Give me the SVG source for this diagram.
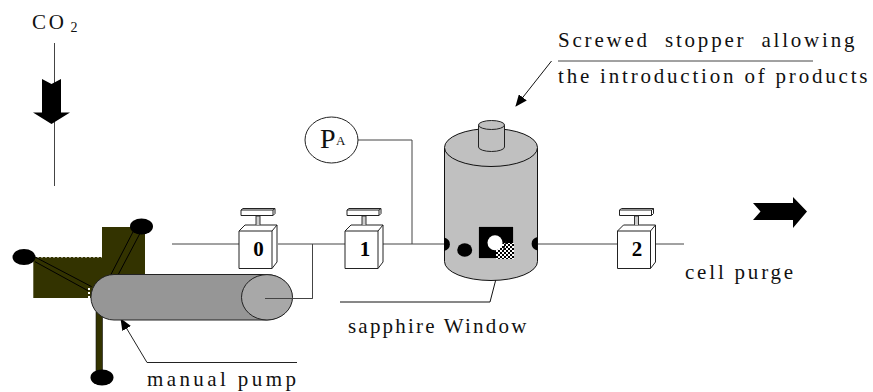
<svg xmlns="http://www.w3.org/2000/svg" width="873" height="392" viewBox="0 0 873 392">
<defs>
<pattern id="chk" width="4" height="4" patternUnits="userSpaceOnUse"><rect width="4" height="4" fill="#fff"/><rect width="2" height="2" fill="#000"/><rect x="2" y="2" width="2" height="2" fill="#000"/></pattern>
<marker id="ah" markerWidth="12" markerHeight="10" refX="11" refY="5" orient="auto" markerUnits="userSpaceOnUse"><path d="M0 0L12 5L0 10Z" fill="#000"/></marker>
<g id="valve">
<path d="M0 0L6-6H38V31L33 37.500H0Z" fill="#fff" stroke="#222" stroke-width="1"/>
<path d="M0 0H33V37.500M33 0L38-6" fill="none" stroke="#222" stroke-width="1"/>
<path d="M17-6V-15h4V-6" fill="#ccc" stroke="#333" stroke-width="1"/>
<path d="M2-15.500V-21L4-22.500H36V-17.500L34-15.500ZM2-21H34V-15.500M34-21L36-22.500" fill="#fff" stroke="#222" stroke-width="1"/>
</g>
</defs>
<style>
.t{font-family:"Liberation Serif","Times New Roman",serif;font-size:21px;fill:#111;letter-spacing:2.8px}
.n{font-family:"Liberation Serif","Times New Roman",serif;font-size:21px;font-weight:bold;fill:#000;text-anchor:middle}
.l{fill:none;stroke:#444;stroke-width:1}
.k{fill:#000}
</style>
<g id="connectors">
<path class="l" d="M54.500 43V186"/>
<path class="l" d="M172 244H239M278 244H345M383 244H444M412 244V140H358M537 244H618M655 244H684"/>
<path class="l" d="M312.500 244V298.500H265"/>
<path d="M340 302H490L503 252" fill="none" stroke="#111" stroke-width="1"/>
<path class="l" d="M558 61H813"/>
<path d="M551.500 61L516 106" fill="none" stroke="#111" stroke-width="1" marker-end="url(#ah)"/>
<path d="M297 362.500H147L121 319" fill="none" stroke="#222" stroke-width="1" marker-end="url(#ah)"/>
</g>
<g id="co2-arrow"><path class="k" d="M42 79L51.500 84L61 79V112.500H70L51.500 124L33 112.500H42Z"/></g>
<g id="purge-arrow"><path class="k" d="M753 203H793V197L807 211.500L793 228V220H753L760.500 211.500Z"/></g>
<g id="pump">
<path d="M33.300 257H102V227H145V298H33.300Z" fill="#333300"/>
<path d="M33 257H102M102 226.500H132" stroke="#fff" stroke-width="1" stroke-dasharray="2 2" fill="none"/>
<rect x="96" y="312" width="6.500" height="60" fill="#333300" stroke="#111" stroke-width="0.600"/>
<path d="M35 257L91.700 286.700M35 261.700L88 290.700M110.700 275L135 228M118 275L140.700 232" stroke="#000" stroke-width="1" fill="none"/>
<path d="M89 288V298" stroke="#fff" stroke-width="2" stroke-dasharray="2 2" fill="none"/>
<ellipse class="k" cx="141.500" cy="226.500" rx="11.500" ry="8"/>
<ellipse class="k" cx="24" cy="257" rx="11.500" ry="8"/>
<ellipse class="k" cx="102" cy="377.500" rx="11.500" ry="8"/>
<path d="M114 274.500H266A26 22.700 0 0 1 266 320H114A23 22.700 0 0 1 114 274.500Z" fill="#969696" stroke="#222" stroke-width="1"/>
<ellipse cx="267" cy="297.300" rx="25.500" ry="22.700" fill="#a8a8a8" stroke="#222" stroke-width="1"/>
<path class="l" d="M265 298.500H312.500"/>
</g>
<g id="valve-0"><use href="#valve" x="239" y="231"/><text class="n" x="258.500" y="256">0</text></g>
<g id="valve-1"><use href="#valve" x="345" y="231"/><text class="n" x="365" y="256">1</text></g>
<g id="valve-2"><use href="#valve" x="617.500" y="231"/><text class="n" x="637" y="256">2</text></g>
<g id="gauge">
<ellipse cx="331.500" cy="140" rx="26.500" ry="23" fill="#fff" stroke="#222" stroke-width="1"/>
<text x="320" y="147.500" style="font-family:'Liberation Serif',serif;font-size:28px;fill:#111">P</text>
<text x="336" y="145" style="font-family:'Liberation Serif',serif;font-size:13px;fill:#111">A</text>
</g>
<g id="cell">
<path d="M444.500 148V261.500A46.500 19 0 0 0 537.500 261.500V148Z" fill="#c0c0c0" stroke="#111" stroke-width="1"/>
<ellipse cx="491" cy="147.500" rx="46.500" ry="19" fill="#c0c0c0" stroke="#111" stroke-width="1"/>
<path d="M478.500 125V147A13 4.500 0 0 0 504.500 147V125Z" fill="#c0c0c0" stroke="#222" stroke-width="1"/>
<ellipse cx="491.500" cy="125" rx="13" ry="4.500" fill="#c0c0c0" stroke="#222" stroke-width="1"/>
<path class="k" d="M444 237.500A8 7 0 0 1 444 251Z"/>
<path class="k" d="M537.500 237A8 7 0 0 0 537.500 250.500Z"/>
<ellipse class="k" cx="464.700" cy="250" rx="7.500" ry="6.800"/>
<rect x="478.500" y="226.500" width="35" height="32" fill="#000" stroke="#fff" stroke-width="1" stroke-dasharray="1 1"/>
<rect x="496" y="243" width="18" height="16" fill="url(#chk)"/>
<circle cx="495" cy="242.700" r="7.500" fill="#fff"/>
<path d="M503 252L506 241" stroke="#111" stroke-width="1" fill="none"/>
</g>
<g id="labels">
<text class="t" x="32" y="29">CO</text><text x="70.500" y="32" style="font-family:'Liberation Serif',serif;font-size:14px;fill:#111">2</text>
<text class="t" x="558" y="47" style="word-spacing:7px">Screwed stopper allowing</text>
<text class="t" x="558" y="83">the introduction of products</text>
<text class="t" x="685" y="279">cell purge</text>
<text class="t" x="348" y="333" style="letter-spacing:2.2px">sapphire Window</text>
<text class="t" x="147" y="386" style="letter-spacing:3.4px">manual pump</text>
</g>
</svg>
